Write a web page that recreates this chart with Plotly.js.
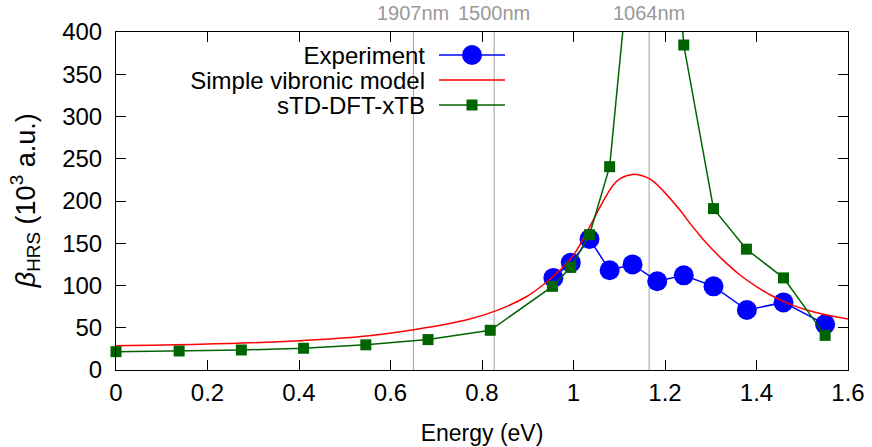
<!DOCTYPE html>
<html><head><meta charset="utf-8">
<script src="https://cdn.plot.ly/plotly-3.0.1.min.js"></script>
<style>html,body{margin:0;padding:0;background:#fff;}#chart{width:872px;height:447px;}</style>
</head><body><div id="chart"></div>
<script>
// Experiment (blue circles)
const expEnergy = [0.956, 0.994, 1.035, 1.079, 1.129, 1.183, 1.241, 1.306, 1.379, 1.459, 1.550];
const expBeta   = [109, 127, 155, 118, 125, 105, 112, 99, 71, 80, 54];
// Simple vibronic model (red curve)
const modelEnergy = [0.000, 0.184, 0.402, 0.548, 0.654, 0.767, 0.830, 0.898, 0.941, 0.970, 1.000, 1.036, 1.058, 1.0725, 1.087, 1.102, 1.129, 1.160, 1.174, 1.196, 1.233, 1.2546, 1.269, 1.291, 1.327, 1.364, 1.400, 1.437, 1.473, 1.510, 1.546, 1.600];
const modelBeta   = [28.8, 30.4, 34.7, 40.2, 48, 59.5, 70, 87, 104, 118, 136, 170, 193, 207, 219, 226.5, 231.5, 228, 223.5, 212, 189, 173.5, 164, 150, 130, 112.4, 98.6, 87, 78, 71, 66, 60.4];
// sTD-DFT-xTB (green squares)
const tdEnergy = [0.000, 0.138, 0.274, 0.410, 0.546, 0.682, 0.818, 0.954, 0.994, 1.035, 1.079, 1.129, 1.183, 1.241, 1.306, 1.378, 1.459, 1.550];
const tdBeta   = [21.7, 22.5, 23.7, 25.7, 29.8, 36, 47, 99, 121.5, 160, 240.6, 520, 810, 384.6, 191, 143, 109, 41];
// Laser wavelengths (vertical markers)
const laserWavelengths = [1907, 1500, 1064];
const laserLabels = ['1907nm', '1500nm', '1064nm'];
// Axis ticks
const xTicks = [0, 0.2, 0.4, 0.6, 0.8, 1, 1.2, 1.4, 1.6];
const yTicks = [0, 50, 100, 150, 200, 250, 300, 350, 400];

const FONT = '"Liberation Sans", Arial, Helvetica, sans-serif';
const laserEnergy = laserWavelengths.map(w => 1239.84 / w);

const data = [
  {x: expEnergy, y: expBeta, name: 'Experiment', type: 'scatter', mode: 'lines+markers',
   line: {color: '#0000ff', width: 1.5}, marker: {color: '#0000ff', size: 20, symbol: 'circle'}, cliponaxis: false},
  {x: modelEnergy, y: modelBeta, name: 'Simple vibronic model', type: 'scatter', mode: 'lines',
   line: {color: '#ff0000', width: 1.5, shape: 'spline', smoothing: 1}},
  {x: tdEnergy, y: tdBeta, name: 'sTD-DFT-xTB', type: 'scatter', mode: 'lines+markers',
   line: {color: '#006400', width: 1.5}, marker: {color: '#006400', size: 11, symbol: 'square'}, cliponaxis: false}
];

const shapes = laserEnergy.map(e => ({type: 'line', xref: 'x', yref: 'paper', x0: e, x1: e, y0: 0, y1: 1,
  line: {color: '#a0a0a0', width: 1}, layer: 'below'}));
const annotations = laserEnergy.map((e, i) => ({xref: 'x', yref: 'paper', x: e, y: 1, yanchor: 'bottom', yshift: 6,
  text: laserLabels[i], showarrow: false, font: {family: FONT, size: 20, color: '#999999'}}));
annotations.push({xref: 'paper', yref: 'paper', x: -0.124, y: 0.5, xanchor: 'center', yanchor: 'middle',
  textangle: -90, showarrow: false, text: '<i>β</i><sub>HRS</sub> (10<sup>3</sup> a.u.)',
  font: {family: FONT, size: 27, color: '#000'}});

const axisCommon = {showgrid: false, zeroline: false, showline: true, linecolor: '#000', linewidth: 1,
  mirror: 'ticks', ticks: 'inside', ticklen: 10, tickcolor: '#000', tickwidth: 1,
  tickfont: {family: FONT, size: 24, color: '#000'}};

const layout = {
  width: 872, height: 447,
  margin: {l: 116, r: 24, t: 32, b: 77},
  paper_bgcolor: '#fff', plot_bgcolor: '#fff',
  font: {family: FONT, size: 24, color: '#000'},
  xaxis: Object.assign({}, axisCommon, {range: [0, 1.6], tickvals: xTicks, ticktext: xTicks.map(String),
    ticklabelstandoff: 1, title: {text: 'Energy (eV)', font: {family: FONT, size: 23}, standoff: 20}}),
  yaxis: Object.assign({}, axisCommon, {range: [0, 400], tickvals: yTicks, ticktext: yTicks.map(String),
    ticklabelstandoff: 8}),
  showlegend: true,
  legend: {x: 0.43, y: 0.95, xanchor: 'left', yanchor: 'top', bgcolor: 'rgba(0,0,0,0)', borderwidth: 0,
    font: {family: FONT, size: 24, color: '#000'}},
  shapes: shapes,
  annotations: annotations
};

Plotly.newPlot('chart', data, layout, {staticPlot: true, displayModeBar: false}).then(gd => {
  const legend = gd.querySelector('g.legend');
  if (!legend) return;
  const scroll = legend.querySelector('.scrollbox');
  if (scroll) scroll.removeAttribute('clip-path');
  legend.setAttribute('transform', 'translate(434,55)');
  const bg = legend.querySelector('rect.bg');
  if (bg) bg.setAttribute('width', 0);
  legend.querySelectorAll('g.traces').forEach((t, i) => {
    t.setAttribute('transform', 'translate(0,' + (i * 25) + ')');
    const txt = t.querySelector('text.legendtext');
    if (txt) { txt.setAttribute('x', -9); txt.setAttribute('text-anchor', 'end'); txt.style.textAnchor = 'end'; }
    t.querySelectorAll('.legendlines path').forEach(p => p.setAttribute('d', 'M5,0h66'));
    t.querySelectorAll('.legendpoints path.scatterpts').forEach(p =>
      p.setAttribute('transform', 'translate(38,0)' + (i === 0 ? ' scale(1.25)' : '')));
  });
});
</script>
</body></html>
